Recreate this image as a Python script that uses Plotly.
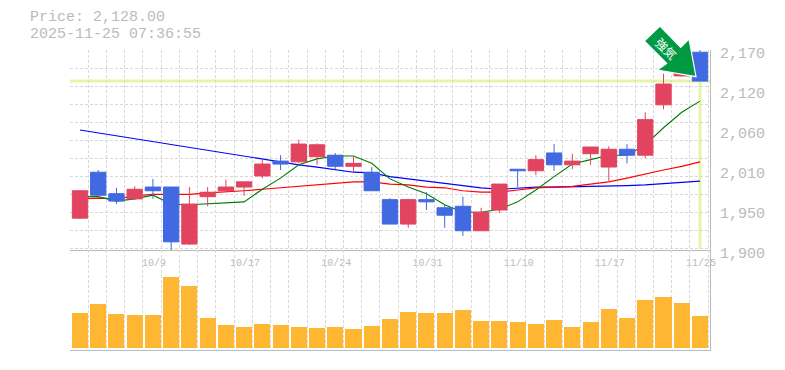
import plotly.graph_objects as go

# ---- data ----
dates_labelled = ["10/9", "10/17", "10/24", "10/31", "11/10", "11/17", "11/25"]
labelled_slots = [4, 9, 14, 19, 24, 29, 34]

opens = [1943, 2005, 1976, 1969, 1985, 1985, 1908, 1972, 1980, 1985, 2000, 2020,
         2019, 2026, 2028, 2013, 2005, 1968, 1935, 1968, 1957, 1959, 1926, 1954,
         2009, 2007, 2031, 2015, 2030, 2012, 2036, 2028, 2096, 2135, 2167]
highs = [1981, 2008, 1984, 1986, 1996, 1985, 1985, 1985, 1995, 1992, 2022, 2028,
         2049, 2044, 2031, 2026, 2012, 1970, 1969, 1978, 1961, 1972, 1957, 1989,
         2009, 2028, 2043, 2030, 2039, 2040, 2043, 2086, 2138, 2168, 2170]
lows = [1942, 1973, 1962, 1968, 1969, 1899, 1907, 1959, 1980, 1973, 1997, 2008,
        2017, 2015, 2009, 2004, 1980, 1935, 1930, 1954, 1930, 1919, 1926, 1950,
        1985, 2001, 2007, 2009, 2015, 1993, 2017, 2024, 2090, 2134, 2128]
closes = [1980, 1974, 1966, 1982, 1980, 1911, 1962, 1978, 1985, 1992, 2016, 2016,
          2043, 2042, 2013, 2017, 1980, 1935, 1968, 1965, 1947, 1926, 1951, 1989,
          2007, 2022, 2015, 2020, 2039, 2036, 2028, 2076, 2124, 2159, 2128]

ma_short = [1972, 1972, 1966, 1969, 1974, 1962, 1961, 1962.5, 1963, 1965, 1982, 1997,
            2015, 2023, 2027, 2027, 2017, 1996, 1985, 1976, 1961, 1951, 1951, 1955,
            1965, 1981, 1999, 2016, 2022, 2028, 2028, 2042, 2065, 2086, 2101]
ma_mid = [1969, 1970, 1969, 1973, 1975, 1975, 1975, 1977, 1978, 1980, 1982, 1984,
          1986, 1989, 1990, 1992, 1992, 1989, 1988, 1985, 1984, 1980, 1978, 1978,
          1981, 1984, 1985, 1986, 1989, 1992, 1997, 2003, 2008, 2013, 2019]
ma_long = [2062, 2058, 2054, 2050, 2046, 2042, 2038, 2034, 2030, 2026, 2022, 2019,
           2015, 2012, 2009, 2005, 2004, 1999, 1996, 1993, 1990, 1986, 1984, 1982,
           1984, 1985, 1985, 1985.5, 1986, 1986, 1987, 1988, 1990, 1992, 1993]

volumes = [35, 44, 34, 33, 33, 71, 62, 30, 23, 21, 24, 23, 21, 20, 21, 19, 22, 29,
           36, 35, 35, 38, 27, 27, 26, 24, 28, 21, 26, 39, 30, 48, 51, 45, 32]

y_tick_values = [2170, 2116, 2062, 2008, 1954, 1900]
y_tick_labels = ["2,170", "2,120", "2,060", "2,010", "1,950", "1,900"]
current_price = 2128
title_lines = ["Price: 2,128.00", "2025-11-25 07:36:55"]
badge_text = "強気"

# ---- styling ----
RED, BLUE = "#E2445F", "#4169E1"
GRID, AXIS, TEXT = "#D8D8D8", "#BBBBBB", "#BBBBBB"
MONO = "Liberation Mono"
W, H = 785, 370
L, R, T, B = 70, 75, 50, 20
n = len(closes)
slots = list(range(n))
x_range = [-0.548, 34.55]
grid_x = [k - 0.548 for k in range(n + 1)]
grid_y = [2169.9 - 24.3 * k for k in range(12)]
tick_x = [s - 0.548 for s in labelled_slots]


def px(x):
    return (x - L) / (W - L - R)


def py(y):
    return (H - B - y) / (H - T - B)


fig = go.Figure()

for vals, color, lw in [(ma_long, "#0000FF", 1.2), (ma_mid, "#FF0000", 1.2), (ma_short, "#007A00", 1.1)]:
    fig.add_trace(go.Scatter(x=slots, y=vals, mode="lines", line=dict(color=color, width=lw),
                             xaxis="x", yaxis="y", showlegend=False, hoverinfo="skip"))

fig.add_trace(go.Candlestick(
    x=slots, open=opens, high=highs, low=lows, close=closes, whiskerwidth=0,
    increasing=dict(line=dict(color=RED, width=1), fillcolor=RED),
    decreasing=dict(line=dict(color=BLUE, width=1), fillcolor=BLUE),
    xaxis="x", yaxis="y3", showlegend=False))

fig.add_trace(go.Bar(x=slots, y=volumes, width=0.88, marker=dict(color="#FFB733", line_width=0),
                     xaxis="x2", yaxis="y2", showlegend=False))

minor_x = dict(tickvals=grid_x, showgrid=True, gridcolor=GRID, griddash="3px,2px", gridwidth=1, ticks="")
axis_font = dict(family=MONO, size=15, color=TEXT)

fig.update_layout(
    width=W, height=H, margin=dict(l=L, r=R, t=T, b=B, autoexpand=False), autosize=False,
    paper_bgcolor="white", plot_bgcolor="white", bargap=0, boxgap=0.16, boxgroupgap=0,
    xaxis=dict(domain=[0, 1], range=x_range, anchor="y", tickmode="array", tickvals=tick_x,
               ticktext=dates_labelled, ticks="", ticklabelshift=11, ticklabelstandoff=3,
               tickfont=dict(family=MONO, size=10, color=TEXT), showgrid=True, gridcolor=GRID,
               griddash="3px,2px", minor=minor_x, showline=True, linecolor=AXIS, linewidth=1,
               zeroline=False, rangeslider=dict(visible=False)),
    xaxis2=dict(domain=[0, 1], range=x_range, anchor="y2", tickmode="array", tickvals=tick_x,
                showticklabels=False, ticks="", showgrid=True, gridcolor=GRID, griddash="3px,2px",
                minor=minor_x, showline=True, linecolor=AXIS, linewidth=1, zeroline=False),
    yaxis=dict(domain=[1 / 3, 1], range=[1900, 2170], side="right", anchor="x", tickmode="array",
               tickvals=y_tick_values, ticktext=y_tick_labels, ticks="", tickfont=axis_font,
               ticklabelstandoff=6, ticklabelshift=3, showgrid=False, zeroline=False, showline=True,
               linecolor=AXIS, linewidth=1,
               minor=dict(tickvals=grid_y, showgrid=True, gridcolor=GRID, griddash="3px,2px", gridwidth=1, ticks="")),
    yaxis2=dict(domain=[0, 1 / 3], range=[-2, 98], side="right", anchor="x2", showticklabels=False,
                ticks="", showgrid=False, zeroline=False, showline=True, linecolor=AXIS, linewidth=1),
    yaxis3=dict(domain=[1 / 3, 1], range=[1900, 2170], overlaying="y", side="right", anchor="x",
                visible=False),
    shapes=[
        dict(type="line", xref="x", yref="y", x0=x_range[0], x1=x_range[1], y0=current_price, y1=current_price,
             line=dict(color="#E4F5A8", width=3), layer="below"),
        dict(type="line", xref="x", yref="y", x0=slots[-1], x1=slots[-1], y0=1902, y1=current_price,
             line=dict(color="#E4F5A8", width=3), layer="below"),
        dict(type="path", xref="paper", yref="paper", layer="above", fillcolor="#009944",
             line=dict(color="white", width=1.2),
             path="M {} {} L {} {} L {} {} L {} {} L {} {} L {} {} L {} {} Z".format(
                 px(660), py(26), px(644.3), py(41), px(666.7), py(63.3), px(657.3), py(70),
                 px(696), py(76.7), px(689), py(39), px(680.7), py(47.3))),
    ],
    annotations=[
        dict(text=title_lines[0], xref="paper", yref="paper", x=px(29), y=py(17.5), xanchor="left", yanchor="middle",
             showarrow=False, font=axis_font, borderpad=0),
        dict(text=title_lines[1], xref="paper", yref="paper", x=px(29), y=py(34.7), xanchor="left", yanchor="middle",
             showarrow=False, font=axis_font, borderpad=0),
        dict(text=badge_text, xref="paper", yref="paper", x=px(667), y=py(48), xanchor="center", yanchor="middle",
             showarrow=False, textangle=45, font=dict(family="Noto Sans CJK JP", size=12, color="white")),
    ],
)

fig.write_html("out.html", config=dict(displayModeBar=False), post_script="document.body.style.margin='0';")
